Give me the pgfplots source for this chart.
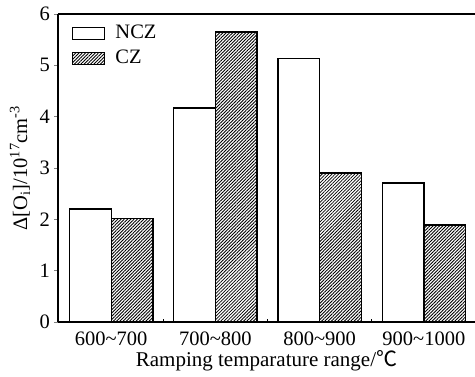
\documentclass[border=0pt]{standalone}
\usepackage{pgfplots}
\pgfplotsset{compat=1.18}
\usetikzlibrary{patterns,patterns.meta}
\usepackage{fontspec}
\setmainfont{Liberation Serif}
\newfontfamily\cjk{Noto Sans CJK SC}
\begin{document}
\begin{tikzpicture}
\begin{axis}[
  scale only axis,
  width=417pt, height=308pt,
  xmin=-0.51, xmax=3.49,
  ymin=0, ymax=6,
  axis x line*=box,
  axis y line*=left,
  axis line style={line width=1.3pt},
  ytick={0,1,2,3,4,5,6},
  xtick={0,1,2,3},
  xticklabels={600\textasciitilde700,700\textasciitilde800,800\textasciitilde900,900\textasciitilde1000},
  minor xtick={0.5,1.5,2.5},
  tick align=outside,
  major tick length=3.5pt,
  minor tick length=3pt,
  x tick style={draw=none},
  minor x tick style={draw=black, line width=1pt, yshift=3pt},
  y tick style={line width=1pt},
  xtick pos=bottom, ytick pos=left,
  /pgf/number format/assume math mode=true,
  tick label style={font=\fontsize{20.5}{22}\selectfont},
  x tick label style={anchor=base, yshift=-20pt},
  y tick label style={xshift=-1pt},
  xlabel style={font=\fontsize{21}{23}\selectfont, at={(axis description cs:0.5,-0.143)}, anchor=base},
  ylabel style={font=\fontsize{20.5}{22}\selectfont, at={(axis description cs:-0.091,0.5)}, anchor=center},
  xlabel={Ramping temparature range/{\cjk ℃}},
  ylabel={Δ[O\textsubscript{i}]/10\textsuperscript{17}cm\textsuperscript{-3}},
  ybar=0pt, bar width=0.4,
  legend cell align=left,
  legend style={draw=none, fill=none, at={(axis description cs:0.0336,0.9675)}, anchor=north west,
    inner sep=0pt, font=\fontsize{20.5}{22}\selectfont, row sep=7pt,
    nodes={inner sep=0pt, text height=14pt, text depth=4pt}},
  legend image code/.code={\draw[#1, line width=1.2pt] (0pt,-6pt) rectangle (32pt,6pt); \path (42pt,0pt);},
]
\addplot[draw=black, line width=1.3pt, fill=white] coordinates {(0,2.20) (1,4.17) (2,5.13) (3,2.71)};
\addplot[draw=black, line width=1.3pt, pattern={Lines[angle=45, distance=2.3pt, line width=0.85pt]}] coordinates {(0,2.01) (1,5.65) (2,2.90) (3,1.89)};
\legend{NCZ, CZ}
\end{axis}
\pgfresetboundingbox
\useasboundingbox (-58pt,-54pt) rectangle (417pt,322pt);
\end{tikzpicture}
\end{document}
